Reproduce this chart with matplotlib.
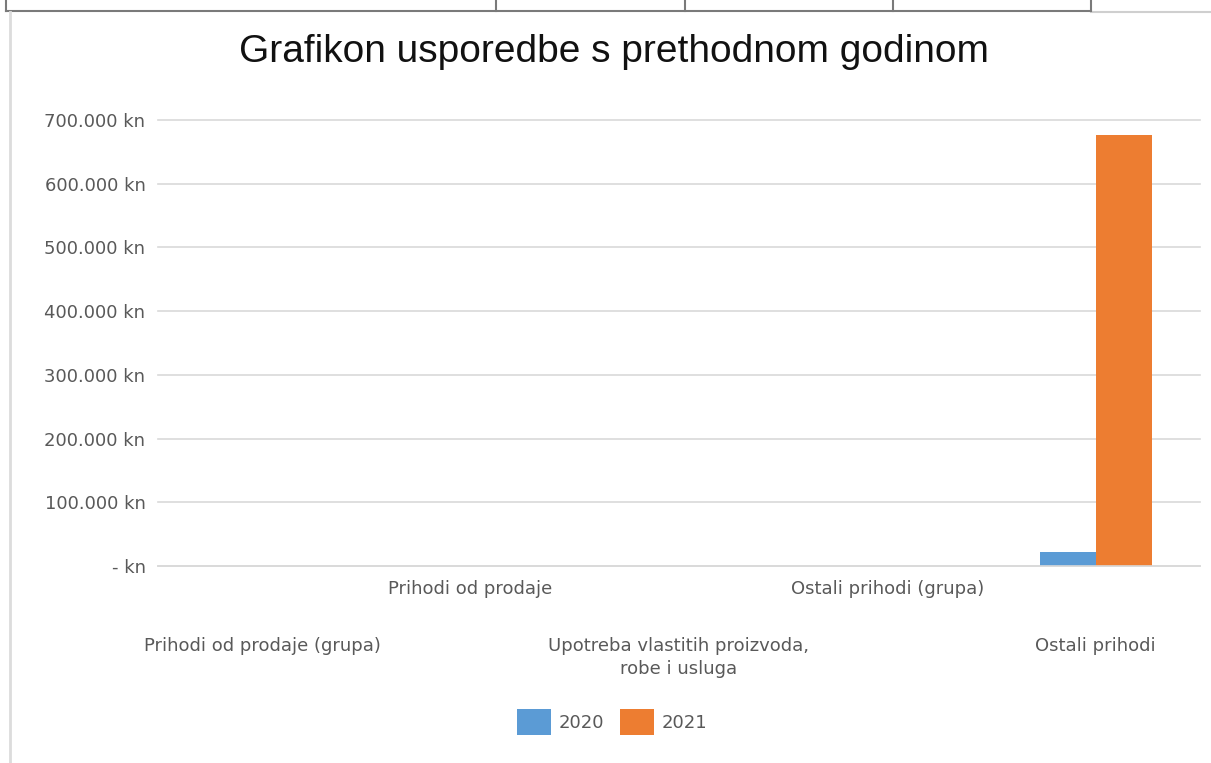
import matplotlib.pyplot as plt
from matplotlib.lines import Line2D
from matplotlib.ticker import FuncFormatter, MultipleLocator

W, H = 1211, 763

categories = [
    "Prihodi od prodaje (grupa)",
    "Prihodi od prodaje",
    "Upotreba vlastitih proizvoda,\nrobe i usluga",
    "Ostali prihodi (grupa)",
    "Ostali prihodi",
]
values_2020 = [0, 0, 0, 0, 22000]
values_2021 = [0, 0, 0, 0, 677000]
series_names = ["2020", "2021"]

BLUE = "#5B9BD5"
ORANGE = "#ED7D31"
GRID = "#d9d9d9"
TEXT = "#595959"


def px(x, y):
    # pixel coords (from top-left) -> figure fraction
    return x / W, 1 - y / H


def kn_fmt(v, _pos):
    if v == 0:
        return "- kn"
    return f"{v:,.0f}".replace(",", ".") + " kn"


def main() -> None:
    plt.rcParams["font.family"] = ["DejaVu Sans"]
    fig = plt.figure(figsize=(W / 100, H / 100), dpi=100)

    x0, y1 = px(158, 120)
    x1, y0 = px(1200, 566)
    ax = fig.add_axes([x0, y0, x1 - x0, y1 - y0])

    xs = list(range(len(categories)))
    bw = 0.27
    ax.bar([x - bw / 2 for x in xs], values_2020, width=bw, color=BLUE, label=series_names[0])
    ax.bar([x + bw / 2 for x in xs], values_2021, width=bw, color=ORANGE, label=series_names[1])

    ax.set_xlim(-0.5, len(categories) - 0.5)
    ax.set_ylim(0, 700000)
    ax.yaxis.set_major_locator(MultipleLocator(100000))
    ax.yaxis.set_major_formatter(FuncFormatter(kn_fmt))
    ax.grid(axis="y", color=GRID, linewidth=1.2)
    ax.set_axisbelow(True)
    for gl in ax.get_ygridlines():
        gl.set_clip_on(False)

    for s in ["left", "right", "top"]:
        ax.spines[s].set_visible(False)
    ax.spines["bottom"].set_color(GRID)
    ax.spines["bottom"].set_linewidth(1.2)

    ax.tick_params(axis="y", length=0, pad=9, labelsize=13, labelcolor=TEXT)
    ax.tick_params(axis="x", length=0, labelsize=13, labelcolor=TEXT)

    ax.set_xticks(xs)
    ax.set_xticklabels(categories)
    for i, tick in enumerate(ax.xaxis.get_major_ticks()):
        tick.set_pad(10 if i % 2 == 1 else 51)
        tick.label1.set_linespacing(1.35)

    fig.text(0.507, px(0, 52)[1], "Grafikon usporedbe s prethodnom godinom",
             ha="center", va="center", fontsize=28, family="Liberation Sans", color="#111111")

    fig.legend(loc="center", bbox_to_anchor=px(612, 722), ncol=2, frameon=False,
               fontsize=13, labelcolor=TEXT, handlelength=1.9, handleheight=1.9,
               handletextpad=0.4, columnspacing=0.9)

    # spreadsheet cell borders above the chart
    dark = "#7a7a7a"
    fig.add_artist(Line2D([px(6, 0)[0], px(1091, 0)[0]], [px(0, 11)[1]] * 2,
                          color=dark, lw=1.5, transform=fig.transFigure))
    fig.add_artist(Line2D([px(1091, 0)[0], 1], [px(0, 11.5)[1]] * 2,
                          color="#cfcfcf", lw=1.5, transform=fig.transFigure))
    for xv in [6, 496, 685, 893, 1091]:
        fig.add_artist(Line2D([px(xv, 0)[0]] * 2, [1, px(0, 11)[1]],
                              color=dark, lw=1.5, transform=fig.transFigure))
    # chart frame left edge
    fig.add_artist(Line2D([px(9.5, 0)[0]] * 2, [px(0, 12)[1], 0],
                          color="#dcdcdc", lw=2, transform=fig.transFigure))

    fig.savefig("out.png", dpi=100)
    plt.close(fig)


if __name__ == "__main__":
    main()
